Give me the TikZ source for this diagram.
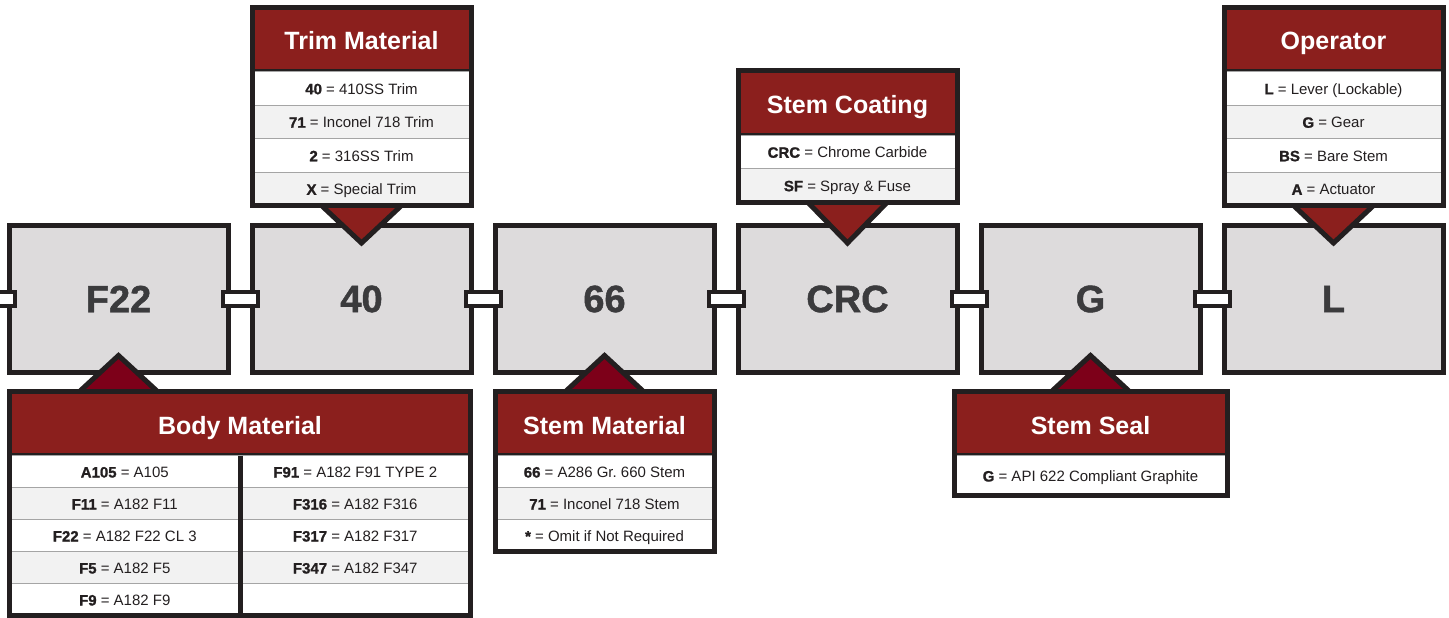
\documentclass[tikz,border=0pt]{standalone}
\usepackage{fontspec}
\setmainfont{Liberation Sans}
\newfontfamily\heavyfont[FakeBold=1.2]{Liberation Sans Bold}
\usetikzlibrary{positioning,calc,fit}
\definecolor{framedark}{RGB}{35,31,32}
\definecolor{headred}{RGB}{139,31,29}
\definecolor{tipred}{RGB}{125,0,25}
\definecolor{boxgray}{RGB}{221,219,220}
\definecolor{rowgray}{RGB}{242,242,242}
\definecolor{codegray}{RGB}{59,59,61}
\definecolor{rulegray}{RGB}{165,165,165}
\newcommand\codekey[1]{{\heavyfont #1}}
\pgfdeclarelayer{under}
\pgfsetlayers{under,main}

\begin{document}
\begin{tikzpicture}[
  x=1pt,y=-1pt,
  node distance=24pt,
  codebox/.style={rectangle,draw=framedark,line width=5pt,fill=boxgray,minimum width=219pt,minimum height=147pt,inner sep=0pt,outer sep=0pt,text=codegray,font=\fontsize{38}{40}\heavyfont},
  headbox/.style={rectangle,draw=framedark,line width=5pt,fill=headred,minimum height=64pt,inner sep=0pt,outer sep=0pt,text height=22pt,text depth=1pt,text=white,font=\fontsize{25}{28}\selectfont\bfseries},
  entry/.style={rectangle,draw=rulegray,line width=1pt,minimum height=33.5pt,inner sep=0pt,outer sep=0pt,text height=12pt,text depth=0pt,text=framedark,font=\fontsize{15}{17}\selectfont\frenchspacing},
  whiterow/.style={entry,fill=white},
  grayrow/.style={entry,fill=rowgray},
  frame/.style={draw=framedark,line width=5pt,inner sep=0pt},
  link/.style={draw=framedark,fill=white,line width=4pt},
  pointer/.style={draw=framedark,fill=headred,line width=5pt,line join=miter},
  tip/.style={pointer,fill=tipred}
]
  \useasboundingbox (0,0) rectangle (1449,618);

  % code boxes and the links between them
  \begin{pgfonlayer}{under}
    \node[codebox] (bodybox) at (118.5,299) {F22};
    \node[codebox,right=of bodybox] (trimbox) {40};
    \node[codebox,right=of trimbox] (stembox) {66};
    \node[codebox,right=of stembox] (coatbox) {CRC};
    \node[codebox,right=of coatbox] (sealbox) {G};
    \node[codebox,right=of sealbox] (opbox) {L};

    \coordinate (feed) at (-10,299);
    \draw[link] ([yshift=7pt]feed) rectangle ([shift={(5.5,7)}]bodybox.west);
    \draw[link] ([shift={(-5.5,-7)}]bodybox.east) rectangle ([shift={(5.5,7)}]trimbox.west);
    \draw[link] ([shift={(-5.5,-7)}]trimbox.east) rectangle ([shift={(5.5,7)}]stembox.west);
    \draw[link] ([shift={(-5.5,-7)}]stembox.east) rectangle ([shift={(5.5,7)}]coatbox.west);
    \draw[link] ([shift={(-5.5,-7)}]coatbox.east) rectangle ([shift={(5.5,7)}]sealbox.west);
    \draw[link] ([shift={(-5.5,-7)}]sealbox.east) rectangle ([shift={(5.5,7)}]opbox.west);
  \end{pgfonlayer}

  % Trim Material
  \node[headbox,minimum width=219pt] (trimhead) at (361.5,39.5) {Trim Material};
  \node[whiterow,minimum width=219pt,below=0pt of trimhead] (trim1) {\codekey{40} = 410SS Trim};
  \node[grayrow,minimum width=219pt,below=0pt of trim1] (trim2) {\codekey{71} = Inconel 718 Trim};
  \node[whiterow,minimum width=219pt,below=0pt of trim2] (trim3) {\codekey{2} = 316SS Trim};
  \node[grayrow,minimum width=219pt,below=0pt of trim3] (trim4) {\codekey{X} = Special Trim};
  \node[frame,fit=(trimhead)(trim4)] (trimframe) {};

  % Stem Coating
  \node[headbox,minimum width=219pt] (coathead) at (847.5,103) {Stem Coating};
  \node[whiterow,minimum width=219pt,below=0pt of coathead] (coat1) {\codekey{CRC} = Chrome Carbide};
  \node[grayrow,minimum width=219pt,below=0pt of coat1] (coat2) {\codekey{SF} = Spray \& Fuse};
  \node[frame,fit=(coathead)(coat2)] (coatframe) {};

  % Operator
  \node[headbox,minimum width=219pt] (ophead) at (1333.5,39.5) {Operator};
  \node[whiterow,minimum width=219pt,below=0pt of ophead] (op1) {\codekey{L} = Lever (Lockable)};
  \node[grayrow,minimum width=219pt,below=0pt of op1] (op2) {\codekey{G} = Gear};
  \node[whiterow,minimum width=219pt,below=0pt of op2] (op3) {\codekey{BS} = Bare Stem};
  \node[grayrow,minimum width=219pt,below=0pt of op3] (op4) {\codekey{A} = Actuator};
  \node[frame,fit=(ophead)(op4)] (opframe) {};

  % Body Material
  \node[headbox,minimum width=461pt] (bodyhead) at (240,423.5) {Body Material};
  \node[whiterow,minimum width=230.5pt,minimum height=32pt,anchor=north west] (bodyA1) at (bodyhead.south west) {\codekey{A105} = A105};
  \node[grayrow,minimum width=230.5pt,minimum height=32pt,below=0pt of bodyA1] (bodyA2) {\codekey{F11} = A182 F11};
  \node[whiterow,minimum width=230.5pt,minimum height=32pt,below=0pt of bodyA2] (bodyA3) {\codekey{F22} = A182 F22 CL 3};
  \node[grayrow,minimum width=230.5pt,minimum height=32pt,below=0pt of bodyA3] (bodyA4) {\codekey{F5} = A182 F5};
  \node[whiterow,minimum width=230.5pt,minimum height=32pt,below=0pt of bodyA4] (bodyA5) {\codekey{F9} = A182 F9};
  \node[whiterow,minimum width=230.5pt,minimum height=32pt,anchor=north west] (bodyB1) at (bodyA1.north east) {\codekey{F91} = A182 F91 TYPE 2};
  \node[grayrow,minimum width=230.5pt,minimum height=32pt,below=0pt of bodyB1] (bodyB2) {\codekey{F316} = A182 F316};
  \node[whiterow,minimum width=230.5pt,minimum height=32pt,below=0pt of bodyB2] (bodyB3) {\codekey{F317} = A182 F317};
  \node[grayrow,minimum width=230.5pt,minimum height=32pt,below=0pt of bodyB3] (bodyB4) {\codekey{F347} = A182 F347};
  \node[whiterow,minimum width=230.5pt,minimum height=32pt,below=0pt of bodyB4] (bodyB5) {};
  \draw[framedark,line width=5pt] (bodyA1.north east) -- (bodyA5.south east);
  \node[frame,fit=(bodyhead)(bodyB5)] (bodyframe) {};

  % Stem Material
  \node[headbox,minimum width=219pt] (stemhead) at (604.5,423.5) {Stem Material};
  \node[whiterow,minimum width=219pt,minimum height=32pt,below=0pt of stemhead] (stem1) {\codekey{66} = A286 Gr. 660 Stem};
  \node[grayrow,minimum width=219pt,minimum height=32pt,below=0pt of stem1] (stem2) {\codekey{71} = Inconel 718 Stem};
  \node[whiterow,minimum width=219pt,minimum height=32pt,below=0pt of stem2] (stem3) {\codekey{*} = Omit if Not Required};
  \node[frame,fit=(stemhead)(stem3)] (stemframe) {};

  % Stem Seal
  \node[headbox,minimum width=273pt] (sealhead) at (1090.5,423.5) {Stem Seal};
  \node[whiterow,minimum width=273pt,minimum height=40pt,below=0pt of sealhead] (seal1) {\codekey{G} = API 622 Compliant Graphite};
  \node[frame,fit=(sealhead)(seal1)] (sealframe) {};

  % pointers from tables to boxes
  \begin{pgfonlayer}{under}
    \draw[pointer] ($(trim4.south)+(-40,0)$) -- ([yshift=-17.5pt]trimbox.north) -- ($(trim4.south)+(40,0)$);
    \draw[pointer] ($(coat2.south)+(-40,0)$) -- ([yshift=-17.5pt]coatbox.north) -- ($(coat2.south)+(40,0)$);
    \draw[pointer] ($(op4.south)+(-40,0)$) -- ([yshift=-17.5pt]opbox.north) -- ($(op4.south)+(40,0)$);
    \draw[tip] ($(bodybox.south |- bodyhead.north)+(-39,0)$) -- ([yshift=17pt]bodybox.south) -- ($(bodybox.south |- bodyhead.north)+(39,0)$);
    \draw[tip] ($(stembox.south |- stemhead.north)+(-39,0)$) -- ([yshift=17pt]stembox.south) -- ($(stembox.south |- stemhead.north)+(39,0)$);
    \draw[tip] ($(sealbox.south |- sealhead.north)+(-39,0)$) -- ([yshift=17pt]sealbox.south) -- ($(sealbox.south |- sealhead.north)+(39,0)$);
  \end{pgfonlayer}
\end{tikzpicture}
\end{document}
